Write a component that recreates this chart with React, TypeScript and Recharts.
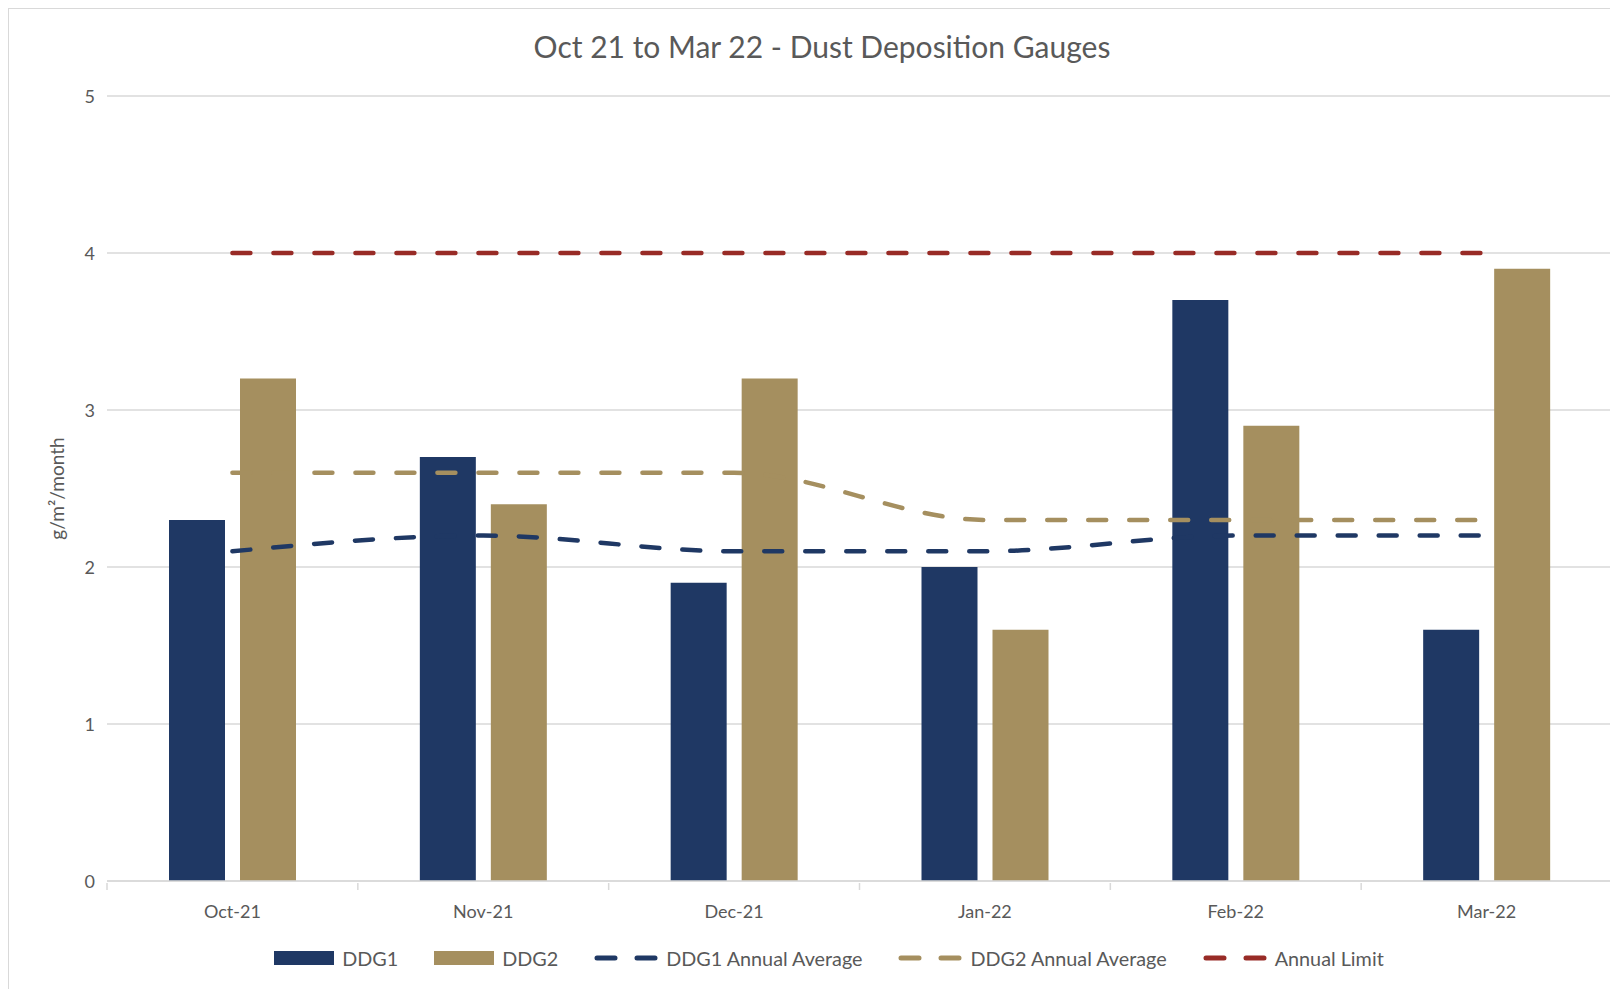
import { ComposedChart, Bar, Line, XAxis, YAxis, CartesianGrid, Legend, Label } from 'recharts';

const months = ['Oct-21', 'Nov-21', 'Dec-21', 'Jan-22', 'Feb-22', 'Mar-22'];
const ddg1 = [2.3, 2.7, 1.9, 2.0, 3.7, 1.6];
const ddg2 = [3.2, 2.4, 3.2, 1.6, 2.9, 3.9];
const ddg1Avg = [2.1, 2.2, 2.1, 2.1, 2.2, 2.2];
const ddg2Avg = [2.6, 2.6, 2.6, 2.3, 2.3, 2.3];
const annualLimit = [4, 4, 4, 4, 4, 4];
const yTicks = [0, 1, 2, 3, 4, 5];

const NAVY = '#1f3864';
const GOLD = '#a58f5f';
const RED = '#982b26';
const TEXT = '#595959';
const FONT = 'Lato, "Open Sans", sans-serif';

const chartData = months.map((month, i) => ({
    month,
    ddg1: ddg1[i],
    ddg2: ddg2[i],
    ddg1Avg: ddg1Avg[i],
    ddg2Avg: ddg2Avg[i],
    limit: annualLimit[i],
}));

const legendItems = [
    { label: 'DDG1', color: NAVY, kind: 'bar' },
    { label: 'DDG2', color: GOLD, kind: 'bar' },
    { label: 'DDG1 Annual Average', color: NAVY, kind: 'dash' },
    { label: 'DDG2 Annual Average', color: GOLD, kind: 'dash' },
    { label: 'Annual Limit', color: RED, kind: 'dash' },
];

// eslint-disable-next-line @typescript-eslint/no-explicit-any
const XTick = (props: any) => {
    const { x, y, payload, width, visibleTicksCount, index } = props;
    const half = width / visibleTicksCount / 2;
    return (
        <g>
            <line x1={x - half} y1={y} x2={x - half} y2={y + 7} stroke="#d9d9d9" strokeWidth={1.5} />
            {index === visibleTicksCount - 1 && (
                <line x1={x + half} y1={y} x2={x + half} y2={y + 7} stroke="#d9d9d9" strokeWidth={1.5} />
            )}
            <text x={x} y={y + 28} textAnchor="middle" dominantBaseline="central" fill={TEXT} fontSize={18} fontFamily={FONT}>
                {payload.value}
            </text>
        </g>
    );
};

// eslint-disable-next-line @typescript-eslint/no-explicit-any
const YTick = (props: any) => {
    const { x, y, payload } = props;
    return (
        <text x={x - 10} y={y} textAnchor="end" dominantBaseline="central" fill={TEXT} fontSize={18} fontFamily={FONT}>
            {payload.value}
        </text>
    );
};

const renderLegend = () => (
    <div style={{ display: 'flex', justifyContent: 'center', alignItems: 'center', gap: 36, paddingLeft: 38, paddingTop: 3, fontFamily: FONT, fontSize: 19.8, color: TEXT }}>
        {legendItems.map((item) => (
            <div key={item.label} style={{ display: 'flex', alignItems: 'center' }}>
                {item.kind === 'bar' ? (
                    <div style={{ width: 60, height: 14, background: item.color, marginRight: 8 }} />
                ) : (
                    <svg width={64} height={14} style={{ marginRight: 8 }}>
                        <line x1={3} y1={7} x2={61} y2={7} stroke={item.color} strokeWidth={5} strokeLinecap="round" strokeDasharray="18 22" />
                    </svg>
                )}
                <span>{item.label}</span>
            </div>
        ))}
    </div>
);

export default function App() {
    return (
        <div style={{ position: 'relative', width: 1610, height: 981, overflow: 'hidden', background: '#fff' }}>
            <div style={{ position: 'absolute', left: 0, top: 0, width: 1620, height: 1000, border: '1px solid #d9d9d9', boxSizing: 'border-box' }} />
            <div style={{ position: 'absolute', left: 0, top: 20, width: 1628, textAlign: 'center', fontFamily: FONT, fontSize: 30, color: TEXT }}>
                Oct 21 to Mar 22 - Dust Deposition Gauges
            </div>
            <ComposedChart
                width={1610}
                height={981}
                data={chartData}
                margin={{ top: 88, right: 6, left: 0, bottom: 16 }}
                barGap={15}
                style={{ position: 'absolute', left: 0, top: 0 }}
            >
                <CartesianGrid vertical={false} stroke="#d9d9d9" strokeWidth={1.5} />
                <XAxis
                    dataKey="month"
                    height={62}
                    tickSize={0}
                    tickLine={false}
                    axisLine={{ stroke: '#d9d9d9', strokeWidth: 1.5 }}
                    tick={<XTick />}
                    interval={0}
                />
                <YAxis
                    domain={[0, 5]}
                    ticks={yTicks}
                    width={99}
                    tickSize={0}
                    axisLine={false}
                    tickLine={false}
                    tick={<YTick />}
                >
                    <Label value="g/m²/month" angle={-90} position="center" dx={0} fill={TEXT} fontSize={19} fontFamily={FONT} />
                </YAxis>
                <Legend verticalAlign="bottom" height={30} content={renderLegend} />
                <Bar dataKey="ddg1" name="DDG1" fill={NAVY} barSize={56} isAnimationActive={false} />
                <Bar dataKey="ddg2" name="DDG2" fill={GOLD} barSize={56} isAnimationActive={false} />
                <Line dataKey="ddg1Avg" name="DDG1 Annual Average" type="monotone" stroke={NAVY} strokeWidth={4.5} strokeDasharray="18 23" strokeLinecap="round" dot={false} activeDot={false} isAnimationActive={false} />
                <Line dataKey="ddg2Avg" name="DDG2 Annual Average" type="monotone" stroke={GOLD} strokeWidth={4.5} strokeDasharray="18 23" strokeLinecap="round" dot={false} activeDot={false} isAnimationActive={false} />
                <Line dataKey="limit" name="Annual Limit" type="monotone" stroke={RED} strokeWidth={4.5} strokeDasharray="18 23" strokeLinecap="round" dot={false} activeDot={false} isAnimationActive={false} />
            </ComposedChart>
        </div>
    );
}
